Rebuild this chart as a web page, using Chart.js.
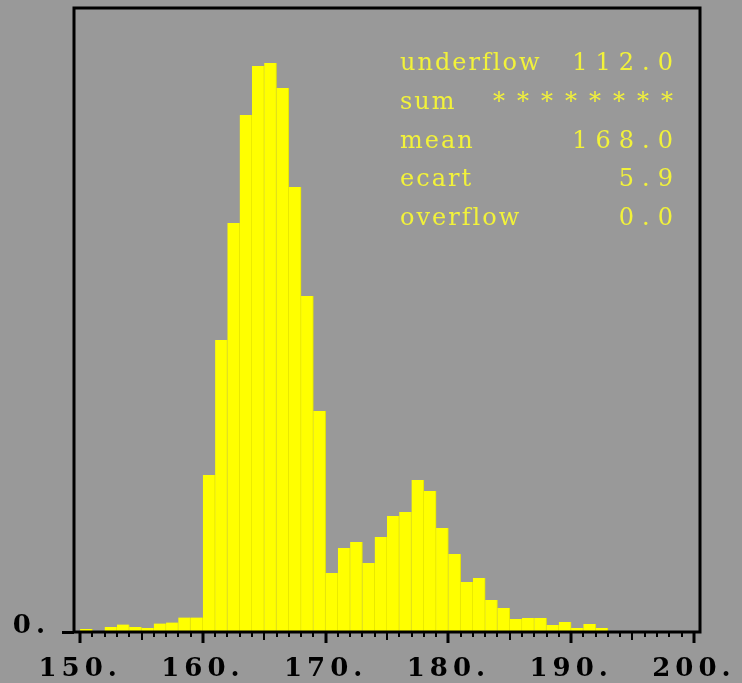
<!DOCTYPE html>
<html>
<head>
  <meta charset="utf-8">
  <title>Histogramme</title>
  <script src="https://cdn.jsdelivr.net/npm/chart.js@4.4.0/dist/chart.umd.min.js"></script>
  <style>
    html, body { margin: 0; padding: 0; background: #999999; }
    .wrap { width: 742px; height: 683px; }
  </style>
</head>
<body>
  <div class="wrap"><canvas id="histo"></canvas></div>
<script>
  // one bin per unit, 150 -> 200
  const binStart = 150;
  const counts = [
    3, 1, 5, 7.5, 5, 4, 8.5, 9.5, 14.5, 14.5,
    157, 292, 409, 517, 566, 569, 544, 445, 336, 221,
    59, 84, 90, 69, 95, 116, 120, 152, 141, 104,
    78, 50, 54, 32, 24, 13, 14, 14, 7, 10,
    4, 8, 4, 0, 0, 0, 0, 0, 0, 0
  ];
  const xTicks = [150, 160, 170, 180, 190, 200];
  const xTickLabels = ['150.', '160.', '170.', '180.', '190.', '200.'];
  const yTickLabel = '0.';
  const statLabels = ['underflow', 'sum', 'mean', 'ecart', 'overflow'];
  const statValues = ['112.0', '********', '168.0', '5.9', '0.0'];

  const tickFont = { family: 'DejaVu Serif', size: 26, weight: 'bold' };

  // frame, minor ticks, stats box
  const decor = {
    id: 'decor',
    beforeDraw(chart) {
      chart.ctx.letterSpacing = '5px';
    },
    afterDraw(chart) {
      const ctx = chart.ctx;
      const a = chart.chartArea;
      const xs = chart.scales.x;
      ctx.save();
      ctx.strokeStyle = '#000';
      ctx.lineWidth = 3;
      ctx.strokeRect(a.left, a.top, a.right - a.left, a.bottom - a.top);
      for (let v = 150; v <= 200; v++) {
        const px = Math.round(xs.getPixelForValue(v));
        const len = v % 10 === 0 ? 11 : (v % 5 === 0 ? 8 : 5);
        ctx.lineWidth = v % 10 === 0 ? 3 : 2;
        ctx.beginPath();
        ctx.moveTo(px, a.bottom);
        ctx.lineTo(px, a.bottom + len);
        ctx.stroke();
      }
      ctx.fillStyle = '#f2f23a';
      ctx.font = '24px "DejaVu Serif"';
      ctx.textBaseline = 'alphabetic';
      for (let i = 0; i < statLabels.length; i++) {
        const y = 70 + i * 38.8;
        const sp = statValues[i].startsWith('*') ? 12 : 8;
        ctx.letterSpacing = '2px';
        ctx.textAlign = 'left';
        ctx.fillText(statLabels[i], 400, y);
        ctx.letterSpacing = sp + 'px';
        ctx.textAlign = 'right';
        ctx.fillText(statValues[i], 673 + sp, y);
      }
      ctx.restore();
      ctx.letterSpacing = '0px';
    }
  };

  new Chart(document.getElementById('histo'), {
    type: 'bar',
    data: {
      datasets: [{
        data: counts.map((c, i) => ({ x: binStart + i + 0.5, y: c })),
        backgroundColor: '#ffff00',
        borderColor: '#e4e400',
        borderWidth: { left: 0, right: 1, top: 0, bottom: 0 },
        barPercentage: 1,
        categoryPercentage: 1
      }]
    },
    options: {
      responsive: true,
      maintainAspectRatio: false,
      animation: false,
      layout: { padding: { top: 8, right: 42, left: 0, bottom: 0 } },
      plugins: { legend: { display: false }, tooltip: { enabled: false } },
      scales: {
        x: {
          type: 'linear',
          min: 150,
          max: 200,
          afterFit: s => { s.height = 51; s.paddingLeft = 0; s.paddingRight = 0; },
          grid: { display: false },
          border: { display: false },
          ticks: {
            stepSize: 1,
            autoSkip: false,
            maxRotation: 0,
            padding: 14,
            color: '#000',
            font: tickFont,
            callback: v => {
              const k = xTicks.indexOf(v);
              return k >= 0 ? xTickLabels[k] : '';
            }
          }
        },
        y: {
          min: 0,
          max: 624,
          afterFit: s => { s.width = 74; s.paddingTop = 0; s.paddingBottom = 0; },
          afterBuildTicks: s => { s.ticks = [{ value: 0 }]; },
          grid: { drawOnChartArea: false, tickLength: 12, tickColor: '#000', tickWidth: 3 },
          border: { display: false },
          ticks: {
            padding: 12,
            labelOffset: -6,
            color: '#000',
            font: tickFont,
            callback: () => yTickLabel
          }
        }
      }
    },
    plugins: [decor]
  });
</script>
</body>
</html>
